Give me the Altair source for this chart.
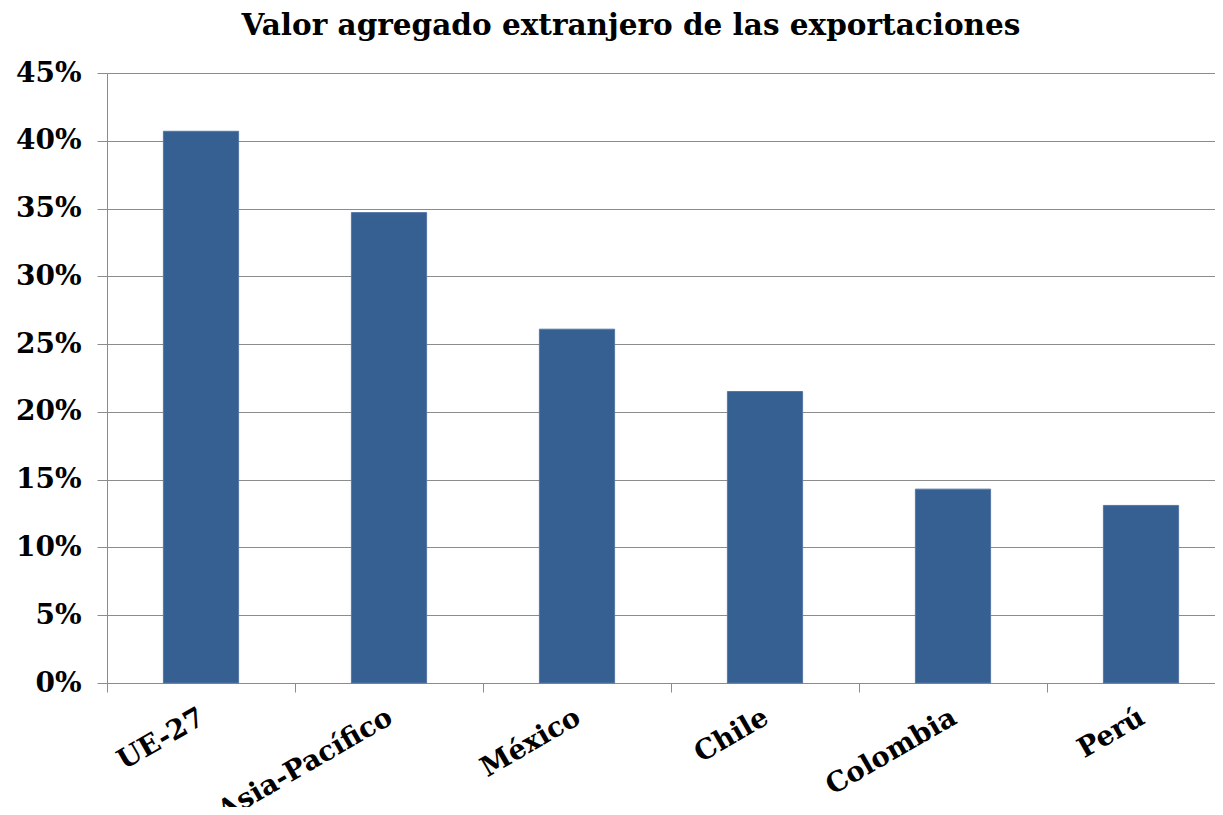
import altair as alt
import pandas as pd

categories = ["UE-27", "Asia-Pacífico", "México", "Chile", "Colombia", "Perú"]
values = [0.407, 0.347, 0.261, 0.215, 0.143, 0.131]
y_ticks = [0, 0.05, 0.10, 0.15, 0.20, 0.25, 0.30, 0.35, 0.40, 0.45]

df = pd.DataFrame({"pais": categories, "valor": values})

FONT = "DejaVu Serif"
STEP = 188

chart = (
    alt.Chart(df, title=alt.TitleParams(
        "Valor agregado extranjero de las exportaciones",
        font=FONT, fontSize=29.5, fontWeight="bold", color="black",
        anchor="middle", frame="group", baseline="alphabetic", offset=2, dy=7, dx=-30,
    ))
    .mark_bar(color="#376092", stroke="#5577a6", strokeWidth=1)
    .encode(
        x=alt.X(
            "pais:N", sort=categories, title=None,
            scale=alt.Scale(range=[0, STEP * 6], paddingInner=0.6, paddingOuter=0.3),
            axis=alt.Axis(
                labelAngle=-30, labelAlign="right", labelBaseline="top",
                labelFont=FONT, labelFontSize=27.5, labelFontWeight="bold", labelColor="black",
                labelPadding=11, tickSize=9, tickColor="#8c8c8c", domainColor="#8c8c8c",
                bandPosition=0.5, tickOffset=-STEP / 2, labelOffset=STEP / 2 - 6,
                grid=False, labelLimit=400,
            ),
        ),
        y=alt.Y(
            "valor:Q", title=None,
            scale=alt.Scale(domain=[0, 0.45], nice=False),
            axis=alt.Axis(
                values=y_ticks, format=".0%",
                labelFont=FONT, labelFontSize=28, labelFontWeight="bold", labelColor="black",
                labelPadding=16, tickSize=10, tickColor="#8c8c8c", domainColor="#8c8c8c",
                gridColor="#8c8c8c", gridWidth=1, grid=True,
            ),
        ),
    )
    .properties(
        width=1108, height=610,
        autosize=alt.AutoSizeParams(type="none"),
        padding={"left": 99, "top": 65, "right": 0, "bottom": 124},
    )
    .configure_view(stroke=None)
    .configure(background="white")
)

chart.save("out.html", embed_options={"renderer": "svg", "actions": False})
